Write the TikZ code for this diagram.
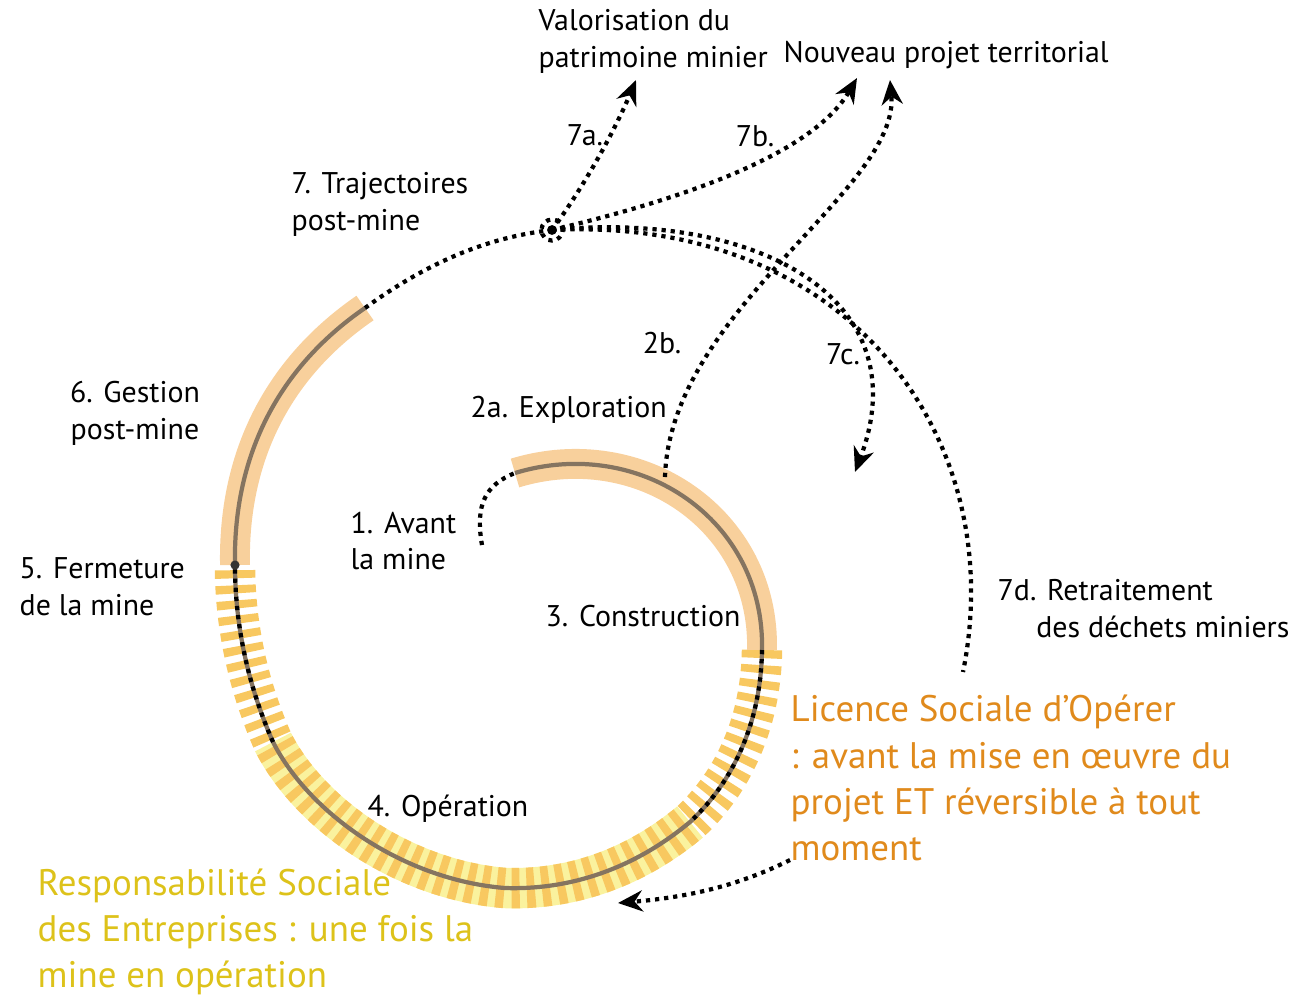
\documentclass[tikz,border=0pt]{standalone}
\usepackage{fontspec}
\setmainfont{PT Sans}
\usetikzlibrary{arrows.meta}
\definecolor{bandorange}{HTML}{F8D09C}
\definecolor{tickyellow}{HTML}{F8C860}
\definecolor{paleyellow}{HTML}{FAF29E}
\definecolor{linegrey}{HTML}{857460}
\definecolor{lsotext}{HTML}{E08A1C}
\definecolor{rsetext}{HTML}{DDC21A}
\tikzset{
  band/.style={line width=8.5pt, bandorange},
  ticks/.style={line width=11.5pt, tickyellow, dash pattern=on 2.3pt off 2pt},
  palefill/.style={line width=11.5pt, paleyellow},
  centreline/.style={line width=1.2pt, linegrey},
  dots/.style={line width=1.2pt, dash pattern=on 1.2pt off 1.4pt},
  tip/.style={-{Stealth[length=7pt,width=6pt]}},
  lbl/.style={font=\fontsize{8.5}{10.5}\selectfont, inner sep=0pt, align=left},
  note/.style={font=\fontsize{10.5}{13.1}\selectfont, inner sep=0pt, align=left}
}
\begin{document}
\begin{tikzpicture}[x=0.01cm,y=-0.01cm]
\useasboundingbox (0,0) rectangle (1296,996);
% points on the spiral
\coordinate (s0) at (482,545);
\coordinate (s1) at (515,473);
\coordinate (s2) at (762,650);
\coordinate (s3) at (690,822);
\coordinate (s4) at (505,888);
\coordinate (s5) at (273,742);
\coordinate (s6) at (235,565);
\coordinate (s7) at (365,308);
\coordinate (hub) at (552,230);
\coordinate (x2b) at (665,477);
% ends of the arrows
\coordinate (e7a) at (636,80);
\coordinate (e7b) at (857,78);
\coordinate (e2b) at (890,80);
\coordinate (e7c) at (855,472);
\coordinate (e7d) at (963,672);
\coordinate (lsofrom) at (790,860);
\coordinate (lsoto) at (618,903);

% operation: ticks on the spiral
\draw[palefill] (s3) .. controls (630,872) and (565,890) .. (s4)
  .. controls (405,880) and (310,815) .. (s5);
\draw[ticks] (s2) .. controls (761,720) and (735,780) .. (s3)
  .. controls (630,872) and (565,890) .. (s4)
  .. controls (405,880) and (310,815) .. (s5)
  .. controls (250,690) and (235,630) .. (s6);
% exploration, construction, gestion
\draw[band] (s1) .. controls (640,435) and (765,520) .. (s2);
\draw[band] (s6) .. controls (233,460) and (275,370) .. (s7);
\draw[centreline] (s1) .. controls (640,435) and (765,520) .. (s2)
  .. controls (761,720) and (735,780) .. (s3)
  .. controls (630,872) and (565,890) .. (s4)
  .. controls (405,880) and (310,815) .. (s5)
  .. controls (250,690) and (235,630) .. (s6)
  .. controls (233,460) and (275,370) .. (s7);
\draw[dots] (s2) .. controls (761,720) and (735,780) .. (s3);
\draw[dots] (s5) .. controls (250,690) and (235,630) .. (s6);
\fill[black!80] (s6) circle (1.3pt);
% before the mine, post-mine
\draw[dots] (s0) .. controls (475,505) and (485,485) .. (s1);
\draw[dots] (s7) .. controls (420,268) and (480,238) .. (hub);
\fill (hub) circle (1.4pt);
\draw[dots] (hub) circle (3pt);

% trajectories
\draw[dots,tip] (hub) .. controls (585,185) and (615,130) .. (e7a);
\draw[dots,tip] (hub) .. controls (700,195) and (815,150) .. (e7b);
\draw[dots,tip] (x2b) .. controls (670,310) and (900,190) .. (e2b);
\draw[dots,tip] (hub) .. controls (760,210) and (920,300) .. (e7c);
\draw[dots] (hub) .. controls (850,215) and (1010,440) .. (e7d);
\draw[dots,tip] (lsofrom) .. controls (740,885) and (690,897) .. (lsoto);

% labels
\node[lbl, anchor=west] (valo) at (538,41) {Valorisation du\\patrimoine minier};
\node[lbl, anchor=west] (nouveau) at (783,55) {Nouveau projet territorial};
\node[lbl] (l7a) at (585,135) {7a.};
\node[lbl] (l7b) at (755,136) {7b.};
\node[lbl, anchor=west] (traj) at (291,204) {7. Trajectoires\\post-mine};
\node[lbl] (l2b) at (662,343) {2b.};
\node[lbl] (l7c) at (843,354) {7c.};
\node[lbl, align=center] (gestion) at (135,413) {6. Gestion\\post-mine};
\node[lbl, anchor=west] (explo) at (470,410) {2a. Exploration};
\node[lbl, anchor=west] (avant) at (350,541) {1. Avant\\la mine};
\node[lbl, anchor=west] (fermeture) at (19,587) {5. Fermeture\\de la mine};
\node[lbl, anchor=west] (constr) at (545,616) {3. Construction};
\node[lbl, anchor=west] (retrait) at (997,609) {7d. Retraitement\\\hspace*{11pt}des déchets miniers};
\node[lbl, anchor=west] (operation) at (367,809) {4. Opération};
\node[note, anchor=west, text=lsotext] (lso) at (790,778)
  {Licence Sociale d’Opérer\\: avant la mise en œuvre du\\projet ET réversible à tout\\moment};
\node[note, anchor=west, text=rsetext] (rse) at (37,932)
  {Responsabilité Sociale\\des Entreprises : une fois la\\mine en opération};
\end{tikzpicture}
\end{document}
